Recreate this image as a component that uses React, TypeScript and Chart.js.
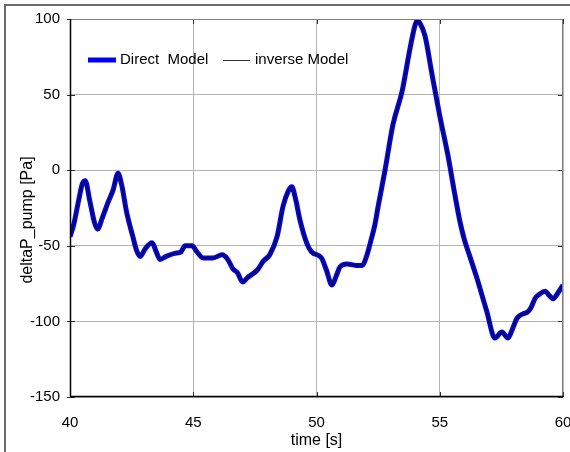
import React, { useEffect, useRef } from "react";
import { Chart, registerables } from "chart.js";

Chart.register(...registerables);

const timeS: number[] = [
  40.0, 40.15, 40.35, 40.5, 40.62, 40.8, 41.0, 41.12, 41.3, 41.55, 41.75, 41.95,
  42.1, 42.3, 42.55, 42.7, 42.85, 43.05, 43.33, 43.5, 43.65, 43.9, 44.25, 44.5,
  44.67, 44.95, 45.15, 45.4, 45.8, 46.17, 46.4, 46.6, 46.8, 47.0, 47.2, 47.6,
  47.85, 48.1, 48.4, 48.64, 48.85, 49.0, 49.15, 49.33, 49.6, 49.8, 50.2, 50.4,
  50.63, 50.8, 50.95, 51.24, 51.6, 51.85, 52.05, 52.2, 52.37, 52.5, 52.78, 53.1,
  53.47, 53.8, 54.0, 54.08, 54.2, 54.4, 54.69, 55.0, 55.33, 55.6, 55.82, 56.0,
  56.2, 56.5, 56.9, 57.24, 57.52, 57.77, 57.95, 58.13, 58.38, 58.55, 58.7, 58.86,
  59.05, 59.27, 59.45, 59.6, 59.8, 60.0,
];

const directModel: number[] = [
  -44, -36, -20, -9, -7, -20, -35, -39, -32, -21, -13, -2,
  -10, -28, -44, -53, -57, -52, -48, -54, -59, -57, -55, -54,
  -50, -50, -54, -58, -58, -56, -59, -65, -68, -74, -71, -66,
  -60, -56, -44, -24, -14, -11, -19, -33, -48, -54, -58, -66,
  -76, -70, -64, -62, -63, -63, -56, -47, -36, -24, 0, 30,
  52, 81, 96, 99, 97, 89, 63, 36, 10, -15, -34, -46,
  -56, -71, -93, -111, -107, -111, -105, -98, -95, -94, -91, -85,
  -82, -80, -83, -85, -81, -76,
];

const inverseModel: number[] = directModel.slice();

const xTicks: number[] = [40, 45, 50, 55, 60];
const yTicks: number[] = [-150, -100, -50, 0, 50, 100];

const seriesNames: string[] = ["Direct  Model", "inverse Model"];
const xTitle = "time [s]";
const yTitle = "deltaP_pump [Pa]";

const FONT = "'Liberation Sans', Arial, sans-serif";

const decorPlugin = {
  id: "decor",
  beforeDatasetsDraw(chart: any) {
    const { ctx, chartArea: a } = chart;
    ctx.save();
    ctx.strokeStyle = "#333";
    ctx.lineWidth = 1;
    const xs = chart.scales.x;
    const ys = chart.scales.y;
    xTicks.forEach((t) => {
      const px = Math.round(xs.getPixelForValue(t)) + 0.5;
      ctx.beginPath();
      ctx.moveTo(px, a.bottom);
      ctx.lineTo(px, a.bottom - 5);
      ctx.moveTo(px, a.top);
      ctx.lineTo(px, a.top + 5);
      ctx.stroke();
    });
    yTicks.forEach((t) => {
      const py = Math.round(ys.getPixelForValue(t)) + 0.5;
      ctx.beginPath();
      ctx.moveTo(a.left - 3, py);
      ctx.lineTo(a.left + 5, py);
      ctx.moveTo(a.right, py);
      ctx.lineTo(a.right - 5, py);
      ctx.stroke();
    });
    ctx.restore();
  },
  afterDraw(chart: any) {
    const { ctx, chartArea: a } = chart;
    ctx.save();
    ctx.strokeStyle = "#808080";
    ctx.lineWidth = 1;
    ctx.beginPath();
    ctx.moveTo(a.left, a.top + 0.5);
    ctx.lineTo(a.right - 0.5, a.top + 0.5);
    ctx.lineTo(a.right - 0.5, a.bottom);
    ctx.stroke();
    ctx.strokeStyle = "#000";
    ctx.lineWidth = 1.5;
    ctx.beginPath();
    ctx.moveTo(a.left + 0.5, a.top);
    ctx.lineTo(a.left + 0.5, a.bottom - 0.5);
    ctx.lineTo(a.right, a.bottom - 0.5);
    ctx.stroke();

    ctx.font = `15px ${FONT}`;
    ctx.textBaseline = "middle";
    ctx.textAlign = "left";
    const ly = 60;
    ctx.strokeStyle = "#0000ff";
    ctx.lineWidth = 5;
    ctx.beginPath();
    ctx.moveTo(88, ly);
    ctx.lineTo(116, ly);
    ctx.stroke();
    ctx.fillStyle = "#000";
    ctx.fillText(seriesNames[0], 120, ly);
    ctx.strokeStyle = "#333";
    ctx.lineWidth = 1;
    ctx.beginPath();
    ctx.moveTo(223, ly + 0.5);
    ctx.lineTo(250, ly + 0.5);
    ctx.stroke();
    ctx.fillText(seriesNames[1], 255, ly);

    ctx.font = `16px ${FONT}`;
    ctx.textAlign = "center";
    ctx.fillText(xTitle, (a.left + a.right) / 2, 441);
    ctx.translate(28, 220);
    ctx.rotate(-Math.PI / 2);
    ctx.fillText(yTitle, 0, 0);
    ctx.restore();
  },
};

export default function App() {
  const ref = useRef<HTMLCanvasElement | null>(null);
  useEffect(() => {
    if (!ref.current) return;
    const pts = (vals: number[]) => timeS.map((t, i) => ({ x: t, y: vals[i] }));
    const chart = new Chart(ref.current, {
      type: "line",
      data: {
        datasets: [
          {
            label: seriesNames[0],
            data: pts(directModel),
            borderColor: "#0000ff",
            borderWidth: 5,
            pointRadius: 0,
            tension: 0.3,
            cubicInterpolationMode: "monotone",
            order: 2,
          },
          {
            label: seriesNames[1],
            data: pts(inverseModel),
            borderColor: "#111",
            borderWidth: 1.5,
            pointRadius: 0,
            tension: 0.3,
            cubicInterpolationMode: "monotone",
            order: 1,
          },
        ],
      },
      options: {
        responsive: false,
        animation: false,
        devicePixelRatio: 1,
        layout: { autoPadding: false, padding: { left: 0, right: 7, top: 19, bottom: 0 } },
        plugins: { legend: { display: false }, tooltip: { enabled: false } },
        scales: {
          x: {
            type: "linear",
            min: 40,
            max: 60,
            afterBuildTicks: (s: any) => {
              s.ticks = xTicks.map((v) => ({ value: v }));
            },
            afterFit: (s: any) => {
              s.height = 55;
              s.paddingLeft = 0;
              s.paddingRight = 0;
            },
            ticks: {
              color: "#000",
              font: { size: 15, family: FONT },
              padding: 17,
              maxRotation: 0,
            },
            grid: { color: "#b4b4b4", lineWidth: 1, drawTicks: false },
            border: { display: false },
          },
          y: {
            type: "linear",
            min: -150,
            max: 100,
            afterBuildTicks: (s: any) => {
              s.ticks = yTicks.map((v) => ({ value: v }));
            },
            afterFit: (s: any) => {
              s.width = 70;
              s.paddingTop = 0;
              s.paddingBottom = 0;
            },
            ticks: {
              color: "#000",
              font: { size: 15, family: FONT },
              padding: 10,
            },
            grid: { color: "#b4b4b4", lineWidth: 1, drawTicks: false },
            border: { display: false },
          },
        },
      },
      plugins: [decorPlugin],
    } as any);
    return () => chart.destroy();
  }, []);
  return (
    <div style={{ position: "fixed", left: 0, top: 0, width: 570, height: 452, overflow: "hidden", background: "#fff" }}>
      <canvas ref={ref} width={570} height={452} style={{ position: "absolute", left: 0, top: 0, width: 570, height: 452 }} />
      <div
        style={{
          position: "absolute",
          left: 4,
          top: 4,
          width: 700,
          height: 700,
          borderLeft: "2px solid #6a6a6a",
          borderTop: "2px solid #6a6a6a",
          pointerEvents: "none",
        }}
      />
    </div>
  );
}
